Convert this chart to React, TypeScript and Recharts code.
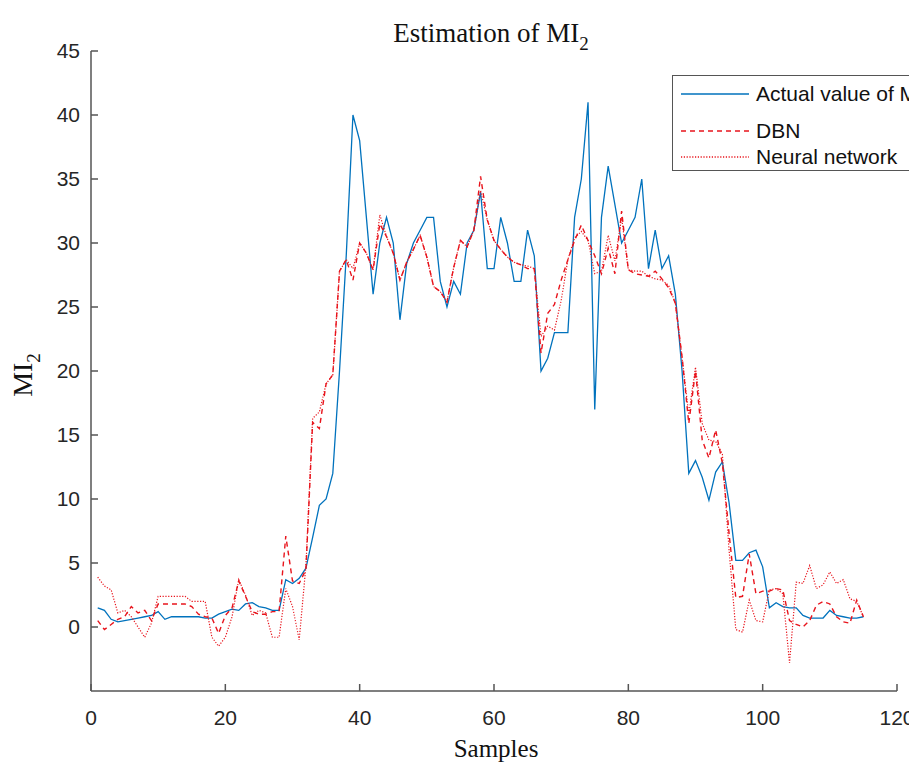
import { LineChart, Line, XAxis, YAxis } from "recharts";

// sample index 1..115
const samples = Array.from({ length: 115 }, (_, i) => i + 1);

const actual = [
  1.5, 1.3, 0.6, 0.4, 0.5, 0.6, 0.7, 0.8, 0.9, 1.2,
  0.6, 0.8, 0.8, 0.8, 0.8, 0.8, 0.7, 0.7, 1.0, 1.2,
  1.4, 1.3, 1.8, 1.9, 1.6, 1.5, 1.3, 1.3, 3.7, 3.4,
  3.8, 4.6, 7.0, 9.5, 10.0, 12.0, 20.0, 29.0, 40.0, 38.0,
  32.0, 26.0, 30.0, 32.0, 30.0, 24.0, 28.4, 30.0, 31.0, 32.0,
  32.0, 27.0, 25.0, 27.0, 26.0, 30.0, 31.0, 34.0, 28.0, 28.0,
  32.0, 30.0, 27.0, 27.0, 31.0, 29.0, 20.0, 21.0, 23.0, 23.0,
  23.0, 32.0, 35.0, 41.0, 17.0, 32.0, 36.0, 33.0, 30.0, 31.0,
  32.0, 35.0, 28.0, 31.0, 28.0, 29.0, 26.0, 20.0, 12.0, 13.0,
  11.7, 9.9, 12.1, 12.9, 9.7, 5.2, 5.2, 5.8, 6.0, 4.7,
  1.5, 1.9, 1.6, 1.5, 1.5, 0.9, 0.7, 0.7, 0.7, 1.3,
  0.9, 0.8, 0.7, 0.7, 0.8,
];

const dbn = [
  0.5, -0.2, 0.2, 0.6, 0.8, 1.6, 1.1, 1.3, 0.5, 1.8,
  1.8, 1.8, 1.8, 1.8, 1.6, 1.0, 0.8, 0.7, -0.5, 0.9,
  1.5, 3.6, 2.4, 1.2, 1.0, 1.0, 1.2, 1.2, 7.1, 3.6,
  3.4, 4.5, 16.0, 15.5, 19.0, 19.7, 27.8, 28.7, 27.1, 30.0,
  29.2, 27.9, 31.5, 30.5, 29.2, 27.1, 28.5, 29.5, 30.6, 28.9,
  26.6, 26.2, 25.4, 28.1, 30.2, 29.7, 31.0, 35.2, 31.8, 30.2,
  29.5, 28.9, 28.5, 28.3, 28.0, 28.0, 21.4, 24.5, 25.2, 27.1,
  28.7, 30.2, 31.4, 30.2, 29.0, 27.6, 29.6, 27.6, 32.5, 27.9,
  27.6, 27.5, 27.4, 27.8, 27.2, 26.5, 25.3, 21.1, 15.9, 20.0,
  14.6, 13.2, 15.4, 12.8, 7.3, 2.3, 2.4, 5.7, 2.6, 2.8,
  2.8, 3.0, 2.9, 0.5, 0.2, 0.0, 0.5, 1.7, 2.0, 1.8,
  0.8, 0.4, 0.3, 2.1, 0.8,
];

const neural = [
  3.9, 3.2, 2.9, 1.1, 1.3, 0.8, 0.0, -0.8, 0.3, 2.4,
  2.4, 2.4, 2.4, 2.4, 2.0, 2.0, 2.0, -0.8, -1.5, -0.8,
  0.8, 3.7, 2.5, 0.9, 1.3, 1.1, -0.8, -0.8, 3.0, 1.6,
  -1.0, 4.8, 16.3, 16.8, 19.0, 19.7, 27.8, 28.7, 28.0, 30.0,
  29.2, 27.9, 32.2, 30.5, 29.2, 27.1, 28.5, 29.5, 30.6, 28.9,
  26.6, 26.2, 25.4, 28.1, 30.2, 29.7, 31.0, 34.1, 31.8, 30.2,
  29.5, 28.9, 28.5, 28.3, 28.2, 28.0, 22.7, 23.5, 23.2, 25.5,
  28.7, 30.4, 30.9, 30.2, 27.6, 27.8, 30.6, 28.6, 32.0, 27.9,
  27.8, 27.8, 27.4, 27.2, 27.1, 26.7, 25.3, 21.0, 16.6, 20.3,
  15.9, 14.6, 14.5, 13.5, 6.0, -0.2, -0.4, 2.1, 0.5, 0.4,
  2.9, 3.0, 2.6, -2.8, 3.5, 3.4, 4.8, 3.0, 3.3, 4.3,
  3.4, 3.7, 2.2, 2.0, 0.8,
];

const xTicks = [0, 20, 40, 60, 80, 100, 120];
const yTicks = [0, 5, 10, 15, 20, 25, 30, 35, 40, 45];

const data = samples.map((s, i) => ({
  s,
  actual: actual[i],
  dbn: dbn[i],
  nn: neural[i],
}));

const BLUE = "#0072bd";
const RED = "#e8141c";
const AXIS = "#555";
const SANS = "'Liberation Sans', Arial, sans-serif";
const SERIF = "'Liberation Serif', 'Times New Roman', serif";

const tickStyle = { fill: "#262626", fontSize: 21, fontFamily: SANS };

const legendRows = [
  { label: "Actual value of MI", color: BLUE, dash: undefined, top: 18 },
  { label: "DBN", color: RED, dash: "5 4", top: 55 },
  { label: "Neural network", color: RED, dash: "1.2 1.6", top: 81 },
];

function App() {
  return (
    <div style={{ position: "relative", width: 909, height: 755 }}>
      <LineChart
        width={909}
        height={755}
        data={data}
        margin={{ top: 43, right: 20, left: 23, bottom: 42 }}
      >
        <XAxis
          dataKey="s"
          type="number"
          domain={[0, 120]}
          ticks={xTicks}
          allowDataOverflow
          stroke={AXIS}
          strokeWidth={1.5}
          tickSize={-7}
          tickMargin={26}
          tick={tickStyle}
          height={30}
        />
        <XAxis
          xAxisId="top"
          orientation="top"
          dataKey="s"
          type="number"
          domain={[0, 120]}
          ticks={xTicks}
          stroke={AXIS}
          strokeWidth={1.5}
          tickSize={-7}
          tick={false}
          height={0}
        />
        <YAxis
          domain={[-5, 45]}
          ticks={yTicks}
          allowDataOverflow
          stroke={AXIS}
          strokeWidth={1.5}
          tickSize={-7}
          tickMargin={18}
          tick={tickStyle}
          width={60}
        />
        <YAxis
          yAxisId="right"
          orientation="right"
          domain={[-5, 45]}
          ticks={yTicks}
          stroke={AXIS}
          strokeWidth={1.5}
          tickSize={-7}
          tick={false}
          width={0}
        />
        <Line
          dataKey="actual"
          stroke={BLUE}
          strokeWidth={1.3}
          dot={false}
          isAnimationActive={false}
        />
        <Line
          dataKey="dbn"
          stroke={RED}
          strokeWidth={1.4}
          strokeDasharray="5 4"
          dot={false}
          isAnimationActive={false}
        />
        <Line
          dataKey="nn"
          stroke={RED}
          strokeWidth={1.2}
          strokeDasharray="1.2 1.6"
          dot={false}
          isAnimationActive={false}
        />
      </LineChart>

      <svg
        width={909}
        height={755}
        style={{ position: "absolute", left: 0, top: 0, pointerEvents: "none" }}
      >
        <text x={483} y={34} textAnchor="middle" fontFamily={SERIF} fontSize={27} fill="#111">
          Estimation of MI
          <tspan fontSize={19} dy={8}>2</tspan>
        </text>
        <text x={488} y={749} textAnchor="middle" fontFamily={SERIF} fontSize={25} fill="#111">
          Samples
        </text>
        <text
          transform="translate(24,367) rotate(-90)"
          textAnchor="middle"
          fontFamily={SERIF}
          fontSize={28}
          fill="#111"
        >
          MI
          <tspan fontSize={19} dy={8}>2</tspan>
        </text>
      </svg>

      <div
        style={{
          position: "absolute",
          left: 664,
          top: 67,
          width: 909 - 664 - 1.5,
          height: 94,
          border: `1.5px solid ${AXIS}`,
          borderRight: "none",
          background: "#fff",
          overflow: "hidden",
          fontFamily: SANS,
          fontSize: 21,
          color: "#111",
        }}
      >
        {legendRows.map((row) => (
          <div
            key={row.label}
            style={{
              position: "absolute",
              left: 8,
              top: row.top - 13,
              height: 26,
              display: "flex",
              alignItems: "center",
              whiteSpace: "nowrap",
            }}
          >
            <svg width={68} height={4} style={{ marginRight: 7 }}>
              <line x1={0} y1={2} x2={68} y2={2} stroke={row.color} strokeWidth={1.3} strokeDasharray={row.dash} />
            </svg>
            <span>{row.label}</span>
          </div>
        ))}
      </div>
    </div>
  );
}

export default App;
